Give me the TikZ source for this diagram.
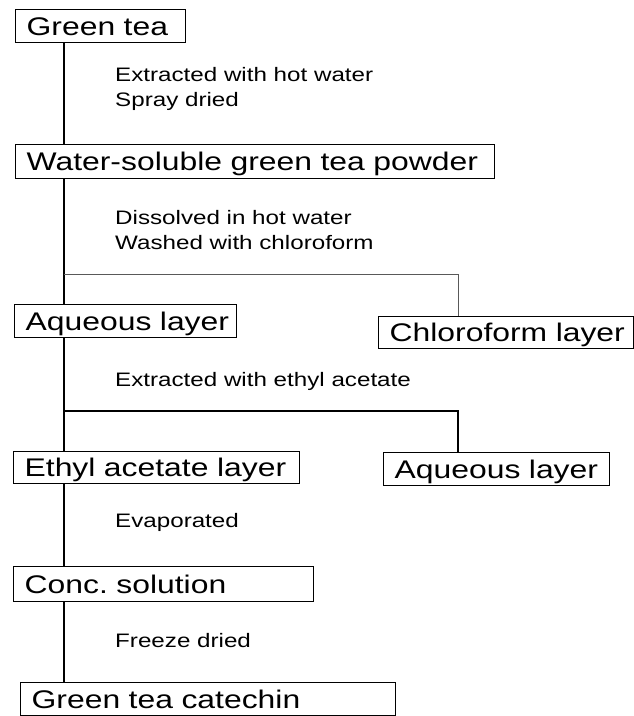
\documentclass[tikz,border=0pt]{standalone}
\usepackage{fontspec}
\newfontfamily\boxfont[FakeStretch=1.25]{Liberation Sans}
\newfontfamily\notefont[FakeStretch=1.24]{Liberation Sans}
\frenchspacing
\begin{document}
\begin{tikzpicture}[x=1pt,y=-1pt,
  stepbox/.style={draw=black, line width=1.3pt, anchor=north west, align=left,
    inner xsep=11pt, inner ysep=0pt, text height=18.3pt, text depth=0pt,
    font=\boxfont\fontsize{25.5pt}{30pt}\selectfont},
  note/.style={anchor=base west, inner sep=0pt,
    font=\notefont\fontsize{19.5pt}{24pt}\selectfont},
  spineline/.style={line width=1.5pt, black},
  thinbranch/.style={line width=0.9pt, black!65},
  thickbranch/.style={line width=1.4pt, black}]
\useasboundingbox (0,0) rectangle (634,716);
% boxes
\node[stepbox, text width=148pt, minimum height=33pt] (gt) at (15,9) {\mbox{Green tea}};
\node[stepbox, text width=457pt, minimum height=34pt] (ws) at (15,144) {\mbox{Water-soluble green tea powder}};
\node[stepbox, text width=200pt, minimum height=33pt] (aqL) at (14,304) {\mbox{Aqueous layer}};
\node[stepbox, text width=233pt, minimum height=32pt] (chl) at (378,316) {\mbox{Chloroform layer}};
\node[stepbox, text width=264pt, minimum height=32pt] (eth) at (13,451) {\mbox{Ethyl acetate layer}};
\node[stepbox, text width=204pt, minimum height=33pt] (aqR) at (383,452) {\mbox{Aqueous layer}};
\node[stepbox, text width=278pt, minimum height=35pt] (conc) at (13,566) {\mbox{Conc.\ solution}};
\node[stepbox, text width=353pt, minimum height=33pt] (cat) at (20,682) {\mbox{Green tea catechin}};
% notes
\node[note] (n1) at (115,81) {Extracted with hot water};
\node[note] (n2) at (115,106) {Spray dried};
\node[note] (n3) at (115,224) {Dissolved in hot water};
\node[note] (n4) at (115,249) {Washed with chloroform};
\node[note] (n5) at (115,386) {Extracted with ethyl acetate};
\node[note] (n6) at (115,527) {Evaporated};
\node[note] (n7) at (115,647) {Freeze dried};
% spine and branch points
\coordinate (spine) at (64,0);
\coordinate (b1) at (64,274);
\coordinate (b1r) at (458,274);
\coordinate (b2) at (64,411);
\coordinate (b2r) at (458,411);
\draw[spineline] (gt.south -| spine) -- (ws.north -| spine);
\draw[spineline] (ws.south -| spine) -- (aqL.north -| spine);
\draw[spineline] (aqL.south -| spine) -- (eth.north -| spine);
\draw[spineline] (eth.south -| spine) -- (conc.north -| spine);
\draw[spineline] (conc.south -| spine) -- (cat.north -| spine);
\draw[thinbranch] (b1) -- (b1r) -- (chl.north -| b1r);
\draw[thickbranch] (b2) -- (b2r) -- (aqR.north -| b2r);
\end{tikzpicture}
\end{document}
